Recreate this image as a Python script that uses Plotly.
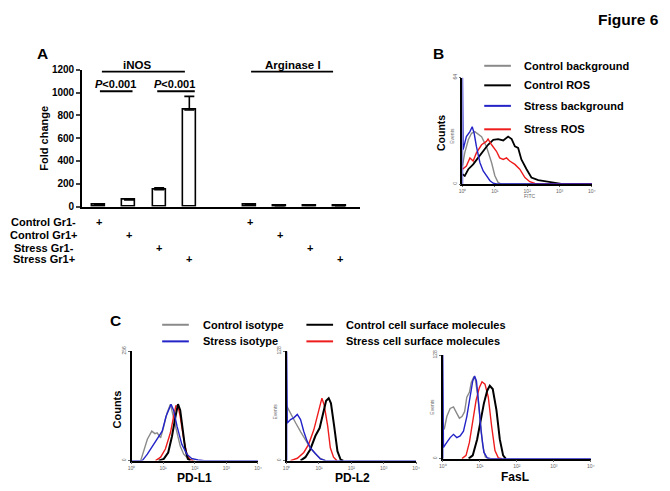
import numpy as np
import plotly.graph_objects as go

W, H = 670, 491
OFF = 8  # default page body margin
FW, FH = W - OFF, H - OFF
FONT = "Liberation Sans, Arial, sans-serif"

# ---------------- Panel A data ----------------
groups = ["Control Gr1-", "Control Gr1+", "Stress Gr1-", "Stress Gr1+"]
bar_pos = [0, 1, 2, 3, 5, 6, 7, 8]
inos_vals = [12, 57, 148, 846]
inos_err = [3, 8, 17, 120]
arg_vals = [12, 3, 10, 3]
arg_err = [12, 1, 4, 1]
a_ticks = [0, 200, 400, 600, 800, 1000, 1200]

# ---------------- Panel B data (log10 FITC, events) ----------------
b_gray_lx = [0, 0.07, 0.18, 0.28, 0.38, 0.48, 0.59, 0.74, 0.9, 1.0, 1.1, 1.2, 4.0]
b_gray_n = [11, 18.7, 26.6, 30.5, 31.5, 30, 28.5, 22.6, 12.8, 5, 1, 0, 0]
b_black_lx = [0, 0.07, 0.18, 0.33, 0.48, 0.64, 0.79, 0.95, 1.1, 1.26, 1.41, 1.52,
              1.62, 1.72, 1.82, 1.98, 2.13, 2.34, 2.65, 2.96, 3.1, 4.0]
b_black_n = [5.9, 4.9, 8.9, 11.8, 15.7, 19.7, 23.6, 26.6, 27, 26.2, 28.5, 27,
             22.6, 21.7, 14.8, 8.9, 3.9, 2.4, 1.4, 0.6, 0, 0]
b_red_lx = [0, 0.12, 0.23, 0.33, 0.43, 0.59, 0.74, 0.79, 0.9, 1.05, 1.15, 1.26,
            1.36, 1.46, 1.62, 1.77, 1.93, 2.08, 2.24, 2.4, 4.0]
b_red_n = [8.9, 10.8, 15.7, 13.8, 18.7, 23.6, 25.6, 27, 23.6, 19.7, 15.7, 14.8,
           15.7, 13.8, 11.8, 8.9, 3.9, 1.4, 0.4, 0, 0]
b_blue_lx = [0, 0, 0.02, 0.12, 0.23, 0.3, 0.36, 0.43, 0.54, 0.64, 0.74, 0.85, 0.95, 1.05, 4.0]
b_blue_n = [0, 64, 20.7, 28.5, 31.5, 34.4, 30.5, 22.6, 12.8, 7.9, 4.9, 2, 0.5, 0, 0]

# ---------------- Panel C data ----------------
pdl1_gray_lx = [0.29, 0.4, 0.5, 0.64, 0.74, 0.81, 0.92, 1.02, 1.12, 1.23, 1.33, 1.44, 1.54, 1.65, 1.8, 2.0]
pdl1_gray_n = [0, 27, 50, 69, 63, 65, 53, 80, 111, 132, 103, 65, 34, 15, 4, 0]
pdl1_red_lx = [0.76, 0.92, 1.07, 1.23, 1.33, 1.4, 1.47, 1.54, 1.65, 1.75, 1.85, 1.95]
pdl1_red_n = [0, 8, 27, 65, 103, 128, 128, 103, 50, 15, 2, 0]
pdl1_black_lx = [0.86, 1.02, 1.16, 1.28, 1.39, 1.47, 1.54, 1.61, 1.7, 1.78, 1.86]
pdl1_black_n = [0, 4, 19, 57, 103, 132, 118, 73, 27, 4, 0]
pdl1_blue_lx = [0, 0.34, 0.5, 0.66, 0.81, 0.97, 1.09, 1.18, 1.25, 1.33, 1.44, 1.59, 1.75, 1.9, 2.1, 2.3, 4.0]
pdl1_blue_n = [0, 0, 15, 34, 50, 69, 103, 122, 132, 118, 80, 38, 15, 5, 1.5, 0, 0]

pdl2_gray_lx = [0, 0.12, 0.28, 0.43, 0.58, 0.73, 0.89, 1.04, 1.2]
pdl2_gray_n = [64, 55, 44, 34, 25, 15, 7.6, 2.7, 0]
pdl2_red_lx = [0.12, 0.33, 0.53, 0.68, 0.84, 0.94, 1.04, 1.09, 1.16, 1.27, 1.35, 1.45, 1.55]
pdl2_red_n = [0, 2.7, 9.5, 19, 36, 52, 67, 73, 65, 40, 15, 4, 0]
pdl2_black_lx = [0.43, 0.58, 0.73, 0.89, 1.02, 1.12, 1.22, 1.3, 1.37, 1.47, 1.57, 1.67, 1.75]
pdl2_black_n = [0, 4, 13, 29, 38, 55, 70, 73, 67, 40, 11, 1, 0]
pdl2_blue_lx = [0, 0, 0.02, 0.12, 0.22, 0.33, 0.43, 0.53, 0.63, 0.73, 0.89, 1.04, 1.2, 4.0]
pdl2_blue_n = [0, 128, 44, 48, 50, 54, 48, 34, 23, 15, 7.6, 1.9, 0, 0]

fasl_gray_lx = [0.04, 0.11, 0.2, 0.29, 0.38, 0.45, 0.52, 0.59, 0.65, 0.72, 0.77, 0.84,
                0.88, 0.95, 1.02, 1.08, 1.15, 1.25]
fasl_gray_n = [36, 52, 62, 64, 56, 50, 52, 58, 76, 82, 94, 101, 98, 76, 44, 16, 2, 0]
fasl_red_lx = [0.52, 0.63, 0.72, 0.81, 0.9, 0.99, 1.06, 1.14, 1.23, 1.32, 1.41, 1.5, 1.6]
fasl_red_n = [0, 4, 20, 44, 72, 88, 95, 92, 76, 40, 10, 1, 0]
fasl_black_lx = [0.7, 0.81, 0.93, 1.02, 1.11, 1.2, 1.27, 1.35, 1.45, 1.54, 1.63, 1.7]
fasl_black_n = [0, 4, 24, 48, 68, 84, 90, 86, 60, 24, 4, 0]
fasl_blue_lx = [0, 0, 0.02, 0.11, 0.2, 0.29, 0.38, 0.47, 0.56, 0.65, 0.75, 0.81, 0.86,
                0.91, 0.97, 1.04, 1.11, 1.2, 1.3, 4.0]
fasl_blue_n = [0, 128, 14, 20, 26, 30, 26, 28, 34, 52, 80, 96, 102, 96, 68, 32, 8, 1, 0, 0]

log_tickvals = [1, 10, 100, 1000, 10000]
log_ticktext = ["10⁰", "10¹", "10²", "10³", "10⁴"]

GRAY = "#8a8a8a"
BLACK = "#000000"
BLUE = "#2323c8"
RED = "#ee1c1c"


def px(x):
    return (x - OFF) / FW


def py(y):
    return 1 - (y - OFF) / FH


fig = go.Figure()

# ---- Panel A bars ----
fig.add_trace(go.Bar(
    x=bar_pos, y=inos_vals + arg_vals, width=0.43,
    marker=dict(color="white", line=dict(color="black", width=1.6)),
    error_y=dict(type="data", array=inos_err + arg_err, arrayminus=[0] * 8,
                 symmetric=False, color="black", thickness=1.6, width=5),
    xaxis="x", yaxis="y", showlegend=False, hoverinfo="skip"))


def hist(lx, n, color, width, xa, ya):
    fig.add_trace(go.Scatter(
        x=10 ** np.array(lx, dtype=float), y=n, mode="lines",
        line=dict(color=color, width=width), xaxis=xa, yaxis=ya,
        showlegend=False, hoverinfo="skip", cliponaxis=True))


# ---- Panel B ----
hist(b_gray_lx, b_gray_n, GRAY, 1.4, "x2", "y2")
hist(b_black_lx, b_black_n, BLACK, 1.8, "x2", "y2")
hist(b_red_lx, b_red_n, RED, 1.4, "x2", "y2")
hist(b_blue_lx, b_blue_n, BLUE, 1.4, "x2", "y2")

# ---- Panel C ----
for (gl, gn, rl, rn, kl, kn, bl, bn, xa, ya) in [
    (pdl1_gray_lx, pdl1_gray_n, pdl1_red_lx, pdl1_red_n, pdl1_black_lx, pdl1_black_n,
     pdl1_blue_lx, pdl1_blue_n, "x3", "y3"),
    (pdl2_gray_lx, pdl2_gray_n, pdl2_red_lx, pdl2_red_n, pdl2_black_lx, pdl2_black_n,
     pdl2_blue_lx, pdl2_blue_n, "x4", "y4"),
    (fasl_gray_lx, fasl_gray_n, fasl_red_lx, fasl_red_n, fasl_black_lx, fasl_black_n,
     fasl_blue_lx, fasl_blue_n, "x5", "y5"),
]:
    hist(gl, gn, GRAY, 1.4, xa, ya)
    hist(rl, rn, RED, 1.4, xa, ya)
    hist(kl, kn, BLACK, 2.0, xa, ya)
    hist(bl, bn, BLUE, 1.4, xa, ya)

tiny = dict(family=FONT, size=5, color="#666")


def log_xaxis(x0, x1, yanchor):
    return dict(domain=[px(x0), px(x1)], anchor=yanchor, type="log", range=[0, 4],
                tickvals=log_tickvals, ticktext=log_ticktext, tickfont=tiny,
                ticks="outside", ticklen=1.5, tickwidth=0.8, tickcolor="#666",
                showline=True, linecolor="black", linewidth=1.5,
                showgrid=False, zeroline=False)


def count_yaxis(y0, y1, ymax, xanchor):
    return dict(domain=[py(y0), py(y1)], anchor=xanchor, range=[0, ymax],
                tickvals=[0, ymax], ticktext=["0", str(ymax)], tickangle=-90,
                tickfont=tiny, ticks="outside", ticklen=2, tickwidth=0.8,
                tickcolor="#666", showline=True, linecolor="black", linewidth=1.5,
                showgrid=False, zeroline=False)


layout = dict(
    width=FW, height=FH, autosize=False,
    margin=dict(l=0, r=0, t=0, b=0),
    paper_bgcolor="white", plot_bgcolor="rgba(0,0,0,0)",
    font=dict(family=FONT, color="black"),
    bargap=0,
    xaxis=dict(domain=[px(79), px(360)], anchor="y", range=[-0.557, 8.656],
               showline=True, linecolor="black", linewidth=2, showticklabels=False,
               ticks="", showgrid=False, zeroline=False),
    yaxis=dict(domain=[py(205), py(65)], anchor="x", range=[0, 1200],
               tickvals=a_ticks, tickfont=dict(family=FONT, size=10, weight="bold"),
               ticks="outside", ticklen=4, tickwidth=1.5, showline=True,
               linecolor="black", linewidth=2, showgrid=False, zeroline=False),
    xaxis2=log_xaxis(464, 595, "y2"),
    yaxis2=count_yaxis(182, 73, 64, "x2"),
    xaxis3=log_xaxis(129, 257, "y3"),
    yaxis3=count_yaxis(465, 353, 256, "x3"),
    xaxis4=log_xaxis(286, 417, "y4"),
    yaxis4=count_yaxis(465, 353, 128, "x4"),
    xaxis5=log_xaxis(444, 594, "y5"),
    yaxis5=count_yaxis(463, 357, 128, "x5"),
)
fig.update_layout(**layout)

annotations = []
shapes = []


def ann(x, y, text, size, bold=True, xanchor="center", angle=0, color="black", xref="paper"):
    annotations.append(dict(
        x=px(x) if xref == "paper" else x, y=py(y), xref=xref, yref="paper",
        text=text, showarrow=False, xanchor=xanchor, yanchor="middle",
        textangle=angle,
        font=dict(family=FONT, size=size, color=color, weight="bold" if bold else "normal")))


def hline(x0, x1, y, color="black", width=1.6):
    shapes.append(dict(type="line", xref="paper", yref="paper",
                       x0=px(x0), x1=px(x1), y0=py(y), y1=py(y),
                       line=dict(color=color, width=width)))


# Figure title and panel letters
ann(632, 14, "Figure 6", 15.5)
ann(39, 48, "A", 15.5)
ann(440, 48, "B", 15.5)
ann(113, 322, "C", 15.5)

# Panel A texts
ann(40, 135, "Fold change", 11, angle=-90)
ann(135, 60, "iNOS", 11.5)
hline(99, 183, 67)
ann(292, 60, "Arginase I", 11.5)
hline(250, 333, 67)
ann(113, 80, "<i>P</i>&lt;0.001", 11)
hline(97, 130, 87, width=2)
ann(172, 80, "<i>P</i>&lt;0.001", 11)
hline(155, 193, 87, width=2)

row_y = [221, 234, 247, 259]
for g, yy in zip(groups, row_y):
    ann(40, yy, g, 11)
for k, xpos in enumerate(bar_pos):
    ann(xpos, row_y[k % 4], "+", 11, xref="x")

# Panel B texts
ann(442, 130, "Counts", 10.5, angle=-90)
ann(454, 133, "Events", 5, bold=False, angle=-90, color="#666")
ann(532, 194, "FITC", 5, bold=False, color="#666")
b_leg = [("Control background", GRAY, 61), ("Control ROS", BLACK, 81),
         ("Stress background", BLUE, 102), ("Stress ROS", RED, 126)]
for name, col, yy in b_leg:
    hline(486, 513, yy, color=col, width=2)
    ann(524, yy, name, 11, xanchor="left")

# Panel C texts
c_leg = [("Control isotype", GRAY, 160, 199, 326), ("Stress isotype", BLUE, 160, 199, 343),
         ("Control cell surface molecules", BLACK, 306, 344, 326),
         ("Stress cell surface molecules", RED, 306, 344, 343)]
for name, col, lx0, tx, yy in c_leg:
    hline(lx0, lx0 + 27, yy, color=col, width=2)
    ann(tx, yy, name, 11, xanchor="left")

ann(114, 413, "Counts", 11, angle=-90)
ann(274, 415, "Events", 5, bold=False, angle=-90, color="#666")
ann(433, 410, "Events", 5, bold=False, angle=-90, color="#666")
ann(193, 482.5, "PD-L1", 12)
ann(353, 482.5, "PD-L2", 12)
ann(517, 481.5, "FasL", 12)

fig.update_layout(annotations=annotations, shapes=shapes)
fig.write_html("out.html", config={"displayModeBar": False})
